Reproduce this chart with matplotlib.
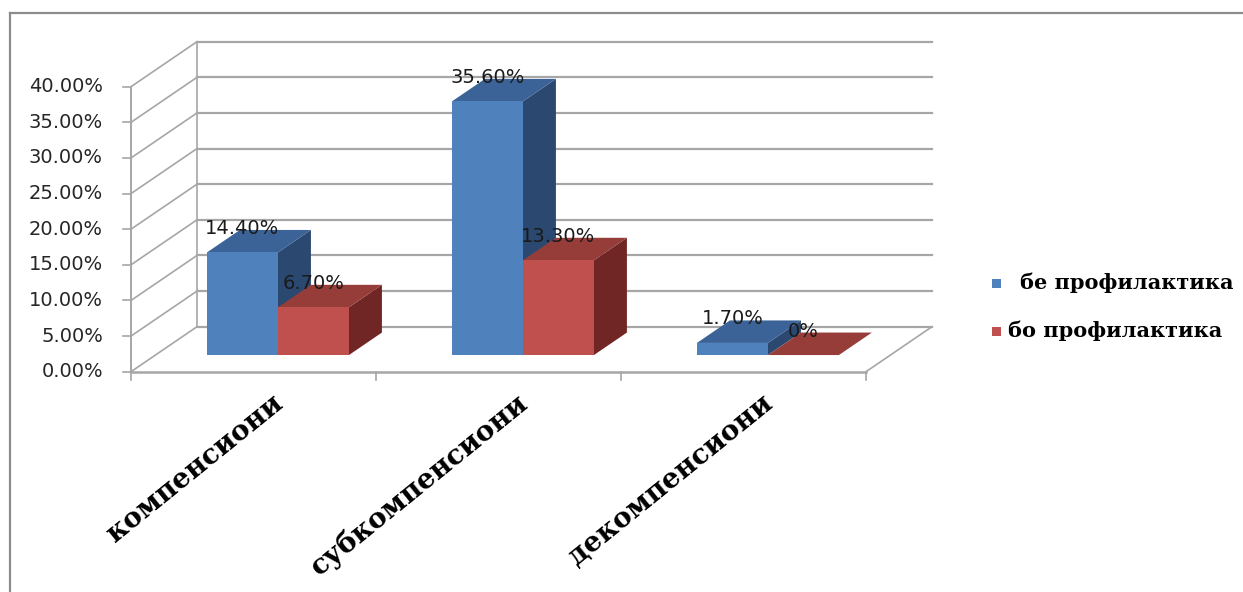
import matplotlib
matplotlib.use('Agg')
import matplotlib.pyplot as plt
from matplotlib.patches import Polygon, Rectangle
from matplotlib.lines import Line2D

# data
categories = ['компенсиони', 'субкомпенсиони', 'декомпенсиони']
series_names = ['бе профилактика', 'бо профилактика']
be_prof = [14.4, 35.6, 1.7]
bo_prof = [6.7, 13.3, 0.0]
be_labels = ['14.40%', '35.60%', '1.70%']
bo_labels = ['6.70%', '13.30%', '0%']
y_ticks = [0, 5, 10, 15, 20, 25, 30, 35, 40]

front_colors = ['#4F81BD', '#C0504D']
top_colors = ['#3B6397', '#963D3A']
side_colors = ['#2A4870', '#702624']

# geometry (pixels of the 1243x592 picture)
W, H = 1243, 592
X0, CAT = 131, 245.0      # front floor left, width of one category
Y0, PX = 371.7, 7.125     # 0% on the front edge, pixels per percent
DX, DY = 66 / CAT, 45 / PX  # full depth offset in data units
F0, F1 = 0.37, 0.87       # depth range of the bars
BW = 71 / CAT             # bar width

GRID = '#A6A6A6'


def proj(x, v, d):
    return x + d * DX, v + d * DY


fig = plt.figure(figsize=(W / 100, H / 100), dpi=100, facecolor='white')
ax = fig.add_axes([0, 0, 1, 1])
ax.set_xlim(-X0 / CAT, (W - X0) / CAT)
ax.set_ylim((Y0 - H) / PX, Y0 / PX)
ax.axis('off')

n = len(categories)
top = y_ticks[-1]

# walls and floor
for t in y_ticks:
    a, b = proj(0, t, 1), proj(n, t, 1)
    ax.plot([a[0], b[0]], [a[1], b[1]], color=GRID, lw=1.6, zorder=1)
    a, b = proj(0, t, 0), proj(0, t, 1)
    ax.plot([a[0], b[0]], [a[1], b[1]], color=GRID, lw=1.2, zorder=1)
    # tick mark + label on the front axis
    ax.plot([a[0] - 8 / CAT, a[0]], [a[1], a[1]], color=GRID, lw=1.2, zorder=1)
    ax.text(a[0] - 28 / CAT, t, f'{t:.2f}%', ha='right', va='center',
            fontsize=14, color='#262626', family='DejaVu Sans')

a, b = proj(0, 0, 1), proj(0, top, 1)
ax.plot([a[0], b[0]], [a[1], b[1]], color=GRID, lw=1.2, zorder=1)
a, b = proj(0, 0, 0), proj(0, top, 0)
ax.plot([a[0], b[0]], [a[1], b[1]], color=GRID, lw=1.4, zorder=1)
a, b = proj(0, 0, 0), proj(n, 0, 0)
ax.plot([a[0], b[0]], [a[1], b[1]], color=GRID, lw=1.8, zorder=1)
a, b = proj(n, 0, 0), proj(n, 0, 1)
ax.plot([a[0], b[0]], [a[1], b[1]], color=GRID, lw=1.2, zorder=1)
for i in range(n + 1):
    ax.plot([i, i], [0, -8 / PX], color=GRID, lw=1.2, zorder=1)

# 3d bars
for i in range(n):
    vals = [be_prof[i], bo_prof[i]]
    labs = [be_labels[i], bo_labels[i]]
    for s in range(2):
        v = vals[s]
        xl = i + 0.5 - BW + s * BW
        xr = xl + BW
        z = 3 + s
        side = [proj(xr, 0, F0), proj(xr, 0, F1), proj(xr, v, F1), proj(xr, v, F0)]
        ax.add_patch(Polygon(side, closed=True, fc=side_colors[s], ec='none', zorder=z))
        tp = [proj(xl, v, F0), proj(xr, v, F0), proj(xr, v, F1), proj(xl, v, F1)]
        ax.add_patch(Polygon(tp, closed=True, fc=top_colors[s], ec='none', zorder=z))
        fl, fb = proj(xl, 0, F0)
        ax.bar(fl, v, bottom=fb, width=BW, align='edge', color=front_colors[s],
               edgecolor='none', zorder=z)
        ax.text(fl + BW / 2, fb + v + 2.6, labs[s], ha='center', va='baseline',
                fontsize=14, color='#1a1a1a', family='DejaVu Sans', zorder=10)

# category labels
for i, c in enumerate(categories):
    ax.text(i + 0.5 + 26 / CAT, -28 / PX, c, rotation=39, rotation_mode='anchor',
            ha='right', va='center', fontsize=20, fontweight='bold',
            family='DejaVu Serif', color='black')

# legend
leg_rows = [(283, 1020), (331, 1008)]
for s, (py, tx) in enumerate(leg_rows):
    fig.add_artist(Rectangle((992 / W, 1 - (py + 4.5) / H), 9 / W, 9 / H,
                             transform=fig.transFigure, fc=front_colors[s], ec='none'))
    fig.text(tx / W, 1 - py / H, series_names[s], ha='left', va='center',
             fontsize=15, fontweight='bold', family='DejaVu Serif', color='black')

# outer frame
fig.add_artist(Line2D([9.5 / W, 9.5 / W], [0, 1 - 13 / H], transform=fig.transFigure,
                      color='#8C8C8C', lw=1.6))
fig.add_artist(Line2D([9.5 / W, 1], [1 - 13 / H, 1 - 13 / H], transform=fig.transFigure,
                      color='#8C8C8C', lw=1.6))

fig.savefig('out.png', dpi=100, facecolor='white')
